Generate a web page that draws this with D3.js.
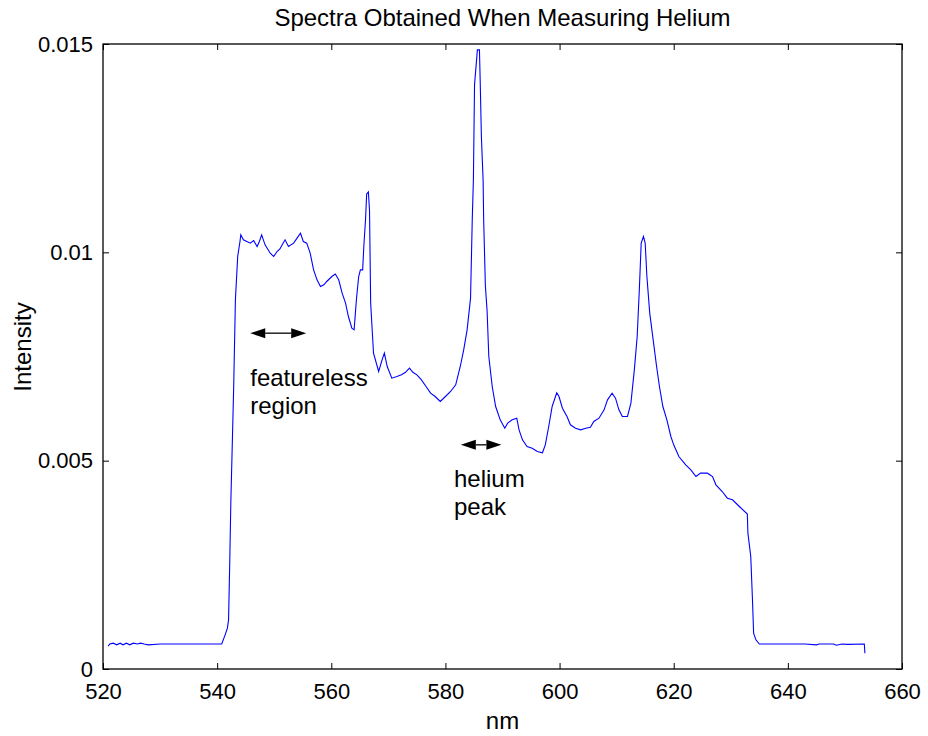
<!DOCTYPE html>
<html>
<head>
<meta charset="utf-8">
<script src="https://cdn.jsdelivr.net/npm/d3@7"></script>
<style>
  body { margin: 0; background: #fff; }
  text { font-family: "Liberation Sans", Arial, sans-serif; fill: #000; }
</style>
</head>
<body>
<div id="chart"></div>
<script>
// spectrum: wavelength (nm) and intensity
var wavelength = [
  520.9, 521.2, 521.8, 522.4, 523.0, 523.5, 524.1, 524.7, 525.3, 526.0, 526.6, 527.2, 527.9,
  530.0, 535.0, 540.8, 541.4, 541.8, 542.0, 542.2, 542.4, 542.7, 542.9, 543.2, 543.6, 544.0,
  544.15, 544.6, 545.2, 545.8, 546.4, 547.0, 547.4, 547.8, 548.4, 549.3, 549.9, 550.5, 551.0,
  551.4, 551.9, 552.5, 553.4, 554.0, 554.6, 555.1, 555.7, 556.3, 556.9, 557.5, 558.1, 558.7,
  559.2, 560.1, 560.7, 561.3, 561.9, 562.5, 563.0, 563.6, 564.0, 564.4, 564.8, 565.1, 565.5,
  565.7, 566.0, 566.2, 566.5, 566.7, 566.9, 567.4, 568.3, 568.9, 569.3, 569.8, 570.6, 571.5,
  572.3, 573.0, 573.7, 574.3, 575.0, 575.8, 576.6, 577.4, 578.2, 579.1, 580.0, 580.9, 581.8,
  582.6, 583.2, 583.8, 584.4, 584.7, 584.9, 585.1, 585.6, 585.96, 586.1, 586.3, 586.6, 586.7,
  587.0, 587.3, 587.6, 588.2, 588.8, 589.6, 590.4, 590.9, 591.7, 592.5, 592.9, 593.5, 594.3,
  595.2, 596.1, 597.0, 597.5, 598.1, 598.7, 599.5, 599.9, 600.5, 601.3, 601.9, 602.8, 603.7,
  604.6, 605.4, 606.0, 606.9, 607.8, 608.4, 609.2, 609.8, 610.4, 611.0, 611.9, 612.5, 613.1,
  613.6, 614.0, 614.3, 614.7, 615.0, 615.3, 615.8, 616.4, 617.0, 617.5, 618.1, 618.8, 619.5,
  620.0, 620.9, 622.1, 623.0, 623.9, 624.7, 625.9, 626.8, 627.4, 628.5, 629.4, 630.3, 631.5,
  632.9, 633.0, 633.5, 633.8, 634.0, 634.4, 635.0, 640.0, 643.0, 645.0, 645.5, 648.0, 648.5,
  649.5, 650.5, 653.4, 653.5
];
var intensity = [
  0.00055, 0.0006, 0.00062, 0.00058, 0.00062, 0.00058, 0.00062, 0.00058, 0.00062, 0.0006, 0.00062, 0.0006, 0.00058,
  0.0006, 0.0006, 0.0006, 0.00082, 0.00098, 0.00118, 0.0025, 0.004, 0.00566, 0.00678, 0.00886, 0.0099, 0.01026,
  0.01042, 0.0103, 0.01026, 0.01022, 0.01028, 0.01014, 0.01026, 0.01042, 0.01018, 0.00998, 0.0099, 0.01002, 0.01008,
  0.01018, 0.0103, 0.01014, 0.01022, 0.01034, 0.01046, 0.01026, 0.01022, 0.00998, 0.00958, 0.00934, 0.00918, 0.00922,
  0.0093, 0.00942, 0.00948, 0.00934, 0.00902, 0.00878, 0.00846, 0.00818, 0.00814, 0.00886, 0.00942, 0.00958, 0.00958,
  0.01014, 0.01078, 0.0114, 0.01145, 0.0110, 0.00878, 0.00758, 0.00714, 0.00742, 0.00758, 0.00726, 0.00698, 0.00702,
  0.00706, 0.00712, 0.00722, 0.00712, 0.00706, 0.00694, 0.00678, 0.00662, 0.00654, 0.00642, 0.00654, 0.00666, 0.00682,
  0.00726, 0.00766, 0.00814, 0.0089, 0.01078, 0.01174, 0.01402, 0.01486, 0.01486, 0.01406, 0.01278, 0.01174, 0.01078,
  0.0092, 0.0086, 0.0075, 0.00678, 0.0063, 0.00598, 0.00578, 0.0059, 0.00598, 0.00602, 0.00574, 0.0055, 0.00534,
  0.0053, 0.00522, 0.00519, 0.00538, 0.00582, 0.0063, 0.00663, 0.00654, 0.00626, 0.00606, 0.00586, 0.00578, 0.00574,
  0.00578, 0.0058, 0.00594, 0.00602, 0.00622, 0.00646, 0.00662, 0.0065, 0.00622, 0.00606, 0.00606, 0.00638, 0.00718,
  0.00798, 0.00918, 0.01022, 0.01038, 0.01022, 0.00942, 0.00854, 0.0079, 0.00726, 0.00678, 0.0063, 0.00598, 0.00558,
  0.00538, 0.0051, 0.0049, 0.00478, 0.00462, 0.0047, 0.0047, 0.00462, 0.00442, 0.00426, 0.0041, 0.00406, 0.0039,
  0.00372, 0.00326, 0.0027, 0.00166, 0.00086, 0.0007, 0.0006, 0.0006, 0.0006, 0.00058, 0.0006, 0.0006, 0.00057,
  0.0006, 0.00059, 0.0006, 0.00038
];

var xTicks = [520, 540, 560, 580, 600, 620, 640, 660];
var yTicks = [0, 0.005, 0.01, 0.015];
var yTickLabels = ["0", "0.005", "0.01", "0.015"];

// annotations: arrow from x1 to x2 at y, label lines starting at (tx, ty)
var arrows = [
  { x1: 545.8, x2: 555.6, y: 0.00806, text: ["featureless", "region"], tx: 545.8, ty: 0.00679 },
  { x1: 582.7, x2: 589.8, y: 0.00538, text: ["helium", "peak"], tx: 581.5, ty: 0.00437 }
];

var svgWidth = 928;
var svgHeight = 736;
var margin = { top: 44, right: 26, bottom: 67, left: 103 };
var width = svgWidth - margin.left - margin.right;
var height = svgHeight - margin.top - margin.bottom;
var tickFont = 22;
var labelFont = 24;

var svg = d3.select("#chart").append("svg")
    .attr("width", svgWidth)
    .attr("height", svgHeight);

var g = svg.append("g")
    .attr("transform", `translate(${margin.left},${margin.top})`);

var xScale = d3.scaleLinear().domain([520, 660]).range([0, width]);
var yScale = d3.scaleLinear().domain([0, 0.015]).range([height, 0]);

// axes, ticks pointing inward on all four sides
g.append("g")
    .attr("transform", `translate(0,${height})`)
    .call(d3.axisBottom(xScale).tickValues(xTicks).tickSizeInner(-6).tickSizeOuter(0).tickPadding(14).tickFormat(d3.format("d")))
    .call(a => a.selectAll("text").attr("font-size", tickFont).attr("font-family", null));
g.append("g")
    .call(d3.axisTop(xScale).tickValues(xTicks).tickSizeInner(-6).tickSizeOuter(0).tickFormat(""));
g.append("g")
    .call(d3.axisLeft(yScale).tickValues(yTicks).tickSizeInner(-6).tickSizeOuter(0).tickPadding(10).tickFormat((d, i) => yTickLabels[i]))
    .call(a => a.selectAll("text").attr("font-size", tickFont).attr("font-family", null));
g.append("g")
    .attr("transform", `translate(${width},0)`)
    .call(d3.axisRight(yScale).tickValues(yTicks).tickSizeInner(-6).tickSizeOuter(0).tickFormat(""));

g.selectAll(".domain").remove();
g.selectAll(".tick line").attr("stroke", "#000");
g.append("rect")
    .attr("width", width)
    .attr("height", height)
    .attr("fill", "none")
    .attr("stroke", "#000")
    .attr("stroke-width", 1.3);

// spectrum
var points = wavelength.map((w, i) => [w, intensity[i]]);
var line = d3.line()
    .x(d => xScale(d[0]))
    .y(d => yScale(d[1]));
g.append("path")
    .datum(points)
    .attr("d", line)
    .attr("fill", "none")
    .attr("stroke", "#0000ff")
    .attr("stroke-width", 1.1);

// double arrows with labels
var headLen = 15, headHalf = 5;
arrows.forEach(function(a) {
    var x1 = xScale(a.x1), x2 = xScale(a.x2), y = yScale(a.y);
    g.append("line")
        .attr("x1", x1 + headLen).attr("x2", x2 - headLen)
        .attr("y1", y).attr("y2", y)
        .attr("stroke", "#000").attr("stroke-width", 1.3);
    g.append("path")
        .attr("d", `M${x1},${y}L${x1 + headLen},${y - headHalf}L${x1 + headLen},${y + headHalf}Z`)
        .attr("fill", "#000");
    g.append("path")
        .attr("d", `M${x2},${y}L${x2 - headLen},${y - headHalf}L${x2 - headLen},${y + headHalf}Z`)
        .attr("fill", "#000");
    a.text.forEach(function(t, i) {
        g.append("text")
            .attr("x", xScale(a.tx))
            .attr("y", yScale(a.ty) + i * 28)
            .attr("font-size", labelFont)
            .text(t);
    });
});

// title and axis labels
svg.append("text")
    .attr("x", margin.left + width / 2)
    .attr("y", 26)
    .attr("text-anchor", "middle")
    .attr("font-size", labelFont)
    .text("Spectra Obtained When Measuring Helium");

svg.append("text")
    .attr("x", margin.left + width / 2)
    .attr("y", 729)
    .attr("text-anchor", "middle")
    .attr("font-size", labelFont)
    .text("nm");

svg.append("text")
    .attr("transform", `translate(31,347) rotate(-90)`)
    .attr("text-anchor", "middle")
    .attr("font-size", labelFont)
    .text("Intensity");
</script>
</body>
</html>
